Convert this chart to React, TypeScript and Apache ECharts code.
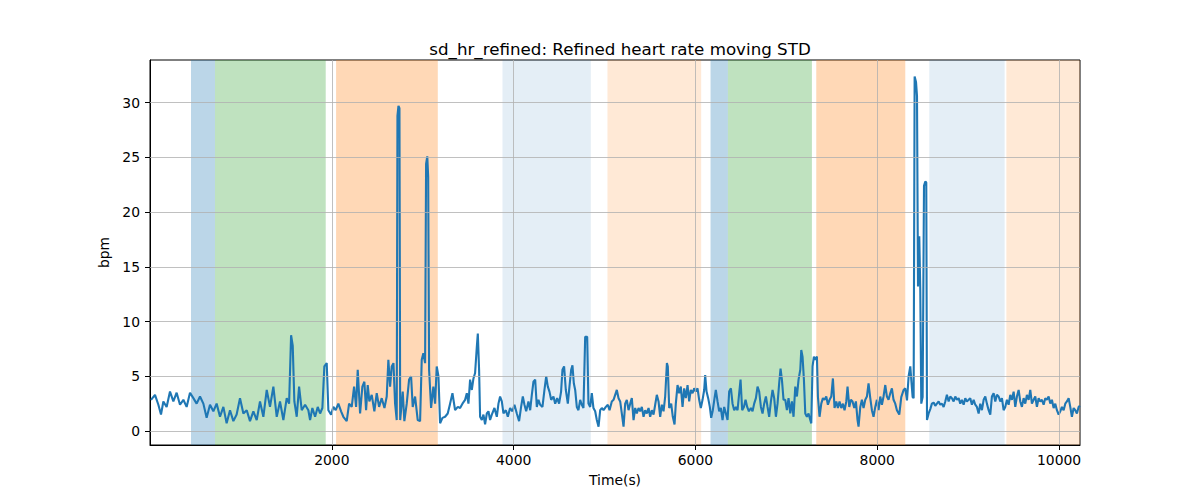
import React, { useEffect, useRef } from "react";
import * as echarts from "echarts";

// Time (s) of each sample
const times: number[] = [
  11, 55, 92, 121, 147, 183, 220, 257, 293, 330, 367, 403, 440, 477, 513, 550, 587, 623, 660, 697,
  733, 770, 807, 843, 880, 917, 953, 990, 1027, 1064, 1100, 1137, 1174, 1210, 1247, 1284, 1320, 1357, 1394, 1430,
  1467, 1504, 1530, 1552, 1570, 1588, 1614, 1640, 1669,
  1706, 1742, 1761, 1786, 1816, 1845, 1871, 1896, 1918, 1944, 1962, 1992, 2017, 2043, 2072, 2102, 2127, 2164, 2190, 2219,
  2245, 2267, 2285, 2311, 2336, 2358, 2377, 2395, 2413, 2439, 2468, 2494, 2520, 2549, 2579, 2604, 2622, 2641, 2659, 2678,
  2696, 2714, 2722, 2733, 2744, 2752, 2780, 2798, 2824, 2850, 2872, 2890, 2916, 2945, 2971, 2989, 3007, 3026, 3037, 3050,
  3060, 3070, 3092, 3117, 3136, 3154, 3173, 3191, 3217, 3246, 3275, 3301, 3327, 3356, 3386, 3411, 3437,
  3466, 3485, 3503, 3521, 3540, 3558, 3576, 3595, 3606, 3620, 3631, 3650, 3668, 3686, 3705, 3723, 3741, 3760, 3789, 3815,
  3833, 3851, 3870, 3888, 3914, 3936, 3961, 3987, 4009, 4035, 4060, 4082, 4101, 4119, 4138, 4163, 4182, 4200, 4218, 4237,
  4255, 4273, 4292, 4317, 4339, 4358, 4376, 4394, 4413, 4438, 4457, 4479, 4500, 4522, 4537, 4555, 4574, 4596, 4614, 4633,
  4647, 4662, 4677, 4695, 4713, 4732, 4750, 4768, 4787, 4809, 4823, 4842, 4860, 4878, 4897, 4915, 4934, 4952, 4970, 4989,
  5014, 5036, 5055, 5080, 5099, 5117, 5135, 5154, 5172, 5190, 5209, 5227,
  5245, 5264, 5282, 5300, 5319, 5337, 5355, 5374, 5392, 5410, 5429, 5447, 5465, 5484, 5502, 5520, 5539, 5557, 5575, 5594,
  5612, 5630, 5649, 5667, 5686, 5696, 5711, 5733, 5751, 5770, 5784, 5803, 5821, 5839, 5858, 5876, 5894, 5913, 5931, 5949,
  5968, 5986, 6004, 6023, 6041, 6059, 6078, 6096, 6107, 6122, 6140, 6158, 6173, 6191, 6210, 6224, 6243, 6261, 6279, 6298,
  6316, 6335, 6353, 6371, 6390, 6408, 6426, 6445, 6463, 6481, 6496, 6514, 6533, 6551, 6569, 6588, 6610, 6628, 6646, 6665,
  6683, 6701, 6720, 6738, 6756, 6775, 6793, 6811, 6830, 6848, 6866, 6885, 6903, 6921, 6936, 6951, 6969,
  6988, 7006, 7024, 7043, 7061, 7079, 7098, 7116, 7134, 7153, 7164, 7178, 7193, 7208, 7226, 7244, 7263, 7274, 7288, 7303,
  7318, 7336, 7347, 7365, 7384, 7402, 7420, 7439, 7457, 7475, 7494, 7512, 7530, 7549, 7567, 7585, 7604, 7622, 7640, 7659,
  7673, 7692, 7710, 7728, 7747, 7765, 7783, 7794, 7813, 7831, 7849, 7868, 7886, 7904, 7923, 7941, 7959, 7978, 7996, 8014,
  8033, 8051, 8069, 8088, 8106, 8124, 8143, 8161, 8179,
  8198, 8216, 8242, 8264, 8290, 8308, 8327, 8345, 8363, 8374, 8389, 8400, 8411, 8426, 8437, 8448, 8462, 8473, 8484, 8499,
  8514, 8528, 8539, 8547, 8565, 8583, 8601, 8620, 8638,
  8656, 8675, 8693, 8711, 8730, 8748,
  8766, 8785, 8803, 8821, 8840, 8858, 8876, 8895, 8913, 8931, 8950, 8968, 8986, 9005, 9023, 9041, 9060, 9078, 9096, 9115,
  9133, 9151, 9170, 9188, 9206, 9225, 9243, 9261, 9280, 9298, 9316, 9335, 9353, 9371, 9390, 9408, 9426, 9445, 9463, 9481,
  9500, 9518, 9536, 9555, 9573, 9591, 9610, 9628, 9646, 9665, 9683, 9701, 9720, 9738, 9756, 9775, 9793, 9811, 9830, 9848,
  9866, 9885, 9903, 9921, 9940, 9958, 9976, 9995, 10013, 10031, 10050, 10068, 10086, 10105, 10123, 10141, 10160, 10178, 10196, 10215,
  10230,
];

// Moving STD of heart rate (bpm)
const values: number[] = [
  2.85, 3.3, 2.4, 1.5, 2.7, 2.2, 3.6, 2.7, 3.5, 2.4, 2.85, 2.2, 3.5, 3.0, 2.5, 3.15, 2.5, 1.2, 2.4, 1.8,
  2.5, 1.3, 2.2, 0.7, 1.9, 0.9, 1.5, 3.0, 1.6, 1.9, 0.9, 1.8, 1.0, 2.7, 1.3, 3.75, 2.2, 4.06, 1.3, 2.7,
  1.0, 3.0, 2.5, 8.75, 7.8, 2.7, 1.3, 4.06, 1.9,
  2.4, 1.9, 1.0, 2.1, 1.3, 2.2, 1.6, 2.1, 5.9, 6.2, 1.9, 1.5, 2.2, 1.9, 2.5, 1.8, 1.3, 0.9, 2.5, 2.2,
  4.06, 2.2, 5.6, 1.6, 4.06, 4.5, 1.9, 4.2, 2.7, 3.3, 1.8, 3.45, 2.2, 3.0, 2.1, 3.15, 6.5, 4.06, 5.9, 6.2,
  2.5, 1.0, 28.8, 29.7, 29.5, 1.0, 3.6, 0.9, 2.5, 4.7, 5.0, 2.2, 3.15, 1.0, 0.9, 6.5, 7.1, 6.2, 24.4, 25.1,
  23.2, 5.6, 2.1, 4.06, 2.5, 5.9, 5.0, 0.7, 1.2, 1.3, 1.6, 2.5, 3.45, 1.9, 2.2, 2.1, 2.5,
  2.85, 3.45, 2.5, 4.7, 3.75, 4.8, 5.3, 7.7, 8.9, 5.6, 1.3, 1.0, 1.5, 0.6, 1.6, 1.8, 1.0, 1.5, 2.1, 1.3,
  2.5, 3.15, 2.7, 1.6, 1.9, 1.3, 2.1, 1.8, 2.4, 1.6, 0.9, 2.2, 3.15, 2.4, 1.8, 2.7, 1.9, 3.3, 4.5, 4.7,
  2.2, 2.85, 2.4, 2.2, 3.75, 5.0, 4.06, 3.6, 2.85, 3.15, 2.5, 3.0, 2.5, 3.6, 5.6, 5.9, 3.75, 2.5, 4.06, 5.6,
  6.0, 4.36, 3.75, 2.2, 1.9, 2.85, 2.4, 2.1, 8.6, 8.6, 2.5, 2.2, 3.45, 2.1, 1.8, 1.0, 0.4, 1.9, 2.1, 1.9,
  2.2, 2.4, 1.9, 2.7, 2.85, 3.3, 3.75, 3.0, 2.7, 1.6, 0.4, 2.5,
  2.85, 1.9, 2.5, 3.0, 1.0, 2.1, 1.6, 2.1, 1.8, 2.2, 1.3, 1.9, 1.6, 2.1, 1.3, 1.9, 1.5, 2.4, 3.3, 2.7,
  1.3, 2.4, 1.8, 3.15, 6.2, 5.9, 2.1, 2.5, 1.3, 0.6, 2.5, 4.2, 3.45, 4.06, 2.2, 3.9, 3.0, 4.2, 2.7, 3.75,
  3.45, 3.9, 3.6, 3.9, 2.85, 2.1, 2.85, 3.75, 5.1, 3.6, 3.0, 2.2, 1.2, 1.9, 3.0, 3.75, 2.7, 1.8, 2.1, 1.0,
  2.2, 1.6, 1.0, 3.6, 3.9, 2.5, 1.9, 2.2, 1.9, 3.45, 4.7, 1.9, 2.2, 2.85, 2.2, 1.8, 2.1, 1.8, 2.5, 3.0,
  4.06, 3.6, 2.2, 1.6, 2.5, 3.15, 2.2, 1.3, 2.7, 3.75, 3.0, 1.3, 2.5, 4.36, 5.7, 4.7, 2.85,
  2.85, 1.9, 3.0, 1.6, 2.7, 1.3, 4.06, 3.15, 4.7, 5.6, 7.4, 6.8, 4.7, 1.6, 1.3, 1.6, 1.0, 0.7, 5.9, 6.8,
  6.5, 6.8, 3.15, 1.3, 2.5, 3.0, 2.85, 3.15, 2.4, 2.85, 3.15, 4.8, 2.1, 2.7, 2.1, 2.7, 2.1, 2.5, 1.9, 2.7,
  4.06, 2.2, 2.85, 2.7, 2.1, 2.7, 1.0, 0.4, 2.2, 2.85, 2.1, 2.85, 3.15, 4.36, 3.0, 1.9, 1.3, 2.2, 2.85, 1.9,
  3.15, 2.4, 3.15, 4.2, 3.15, 2.85, 3.45, 3.9, 2.85,
  2.5, 1.9, 1.5, 3.1, 3.75, 3.9, 2.8, 5.0, 5.9, 4.7, 3.1, 3.0, 32.4, 31.9, 30.6, 13.2, 17.8, 12.9, 2.5, 3.1,
  22.4, 22.8, 22.7, 1.0, 1.6, 2.0, 2.5, 2.6, 2.3,
  2.5, 2.7, 2.4, 2.5, 2.2, 2.7,
  3.3, 2.7, 3.15, 3.0, 2.7, 3.15, 2.85, 3.0, 2.5, 2.85, 2.4, 3.0, 2.7, 2.85, 3.0, 2.4, 2.85, 2.4, 2.2, 1.6,
  2.5, 1.9, 2.85, 3.15, 2.5, 1.9, 1.5, 3.15, 3.45, 2.7, 3.3, 3.15, 2.7, 3.0, 1.9, 2.2, 2.85, 2.4, 3.3, 2.85,
  3.6, 2.2, 3.15, 3.75, 2.7, 2.2, 3.0, 2.5, 3.3, 2.85, 3.75, 2.5, 2.85, 3.15, 2.2, 3.0, 2.7, 2.85, 2.4, 3.0,
  2.85, 3.15, 2.5, 2.85, 2.1, 2.5, 1.9, 1.5, 1.8, 2.2, 1.9, 2.5, 2.7, 3.0, 2.2, 1.3, 2.1, 1.9, 1.6, 2.2,
  2.3,
];

// Shaded activity segments (start s, end s, kind)
const bandStarts: number[] = [451, 715, 2047, 3877, 5032, 6166, 6357, 7329, 8572, 9420];
const bandEnds: number[] = [715, 1933, 3166, 4849, 6063, 6357, 7281, 8308, 9401, 10230];
const bandKinds: string[] = ["blue", "green", "orange", "lightblue", "lightorange", "blue", "green", "orange", "lightblue", "lightorange"];

// Tick values (gridlines drawn at these)
const xTicks: number[] = [2000, 4000, 6000, 8000, 10000];
const yTicks: number[] = [0, 5, 10, 15, 20, 25, 30];

const bandColors: Record<string, string> = {
  blue: "rgba(31,119,180,0.3)",
  green: "rgba(44,160,44,0.3)",
  orange: "rgba(255,127,14,0.3)",
  lightblue: "rgba(31,119,180,0.12)",
  lightorange: "rgba(255,127,14,0.17)",
};

const X_MIN = 0;
const X_MAX = 10230;
const Y_MIN = -1.28;
const Y_MAX = 33.9;

const FONT = "DejaVu Sans";

export default function App() {
  const ref = useRef<HTMLDivElement>(null);

  useEffect(() => {
    if (!ref.current) return;
    const chart = echarts.init(ref.current, null, { renderer: "svg" });
    const data = times.map((t, i) => [t, values[i]]);
    const areas = bandStarts.map((s, i) => [
      { xAxis: s, itemStyle: { color: bandColors[bandKinds[i]] } },
      { xAxis: bandEnds[i] },
    ]);
    const gridLines = [
      ...xTicks.map((v) => ({ xAxis: v })),
      ...yTicks.map((v) => ({ yAxis: v })),
    ];

    chart.setOption({
      animation: false,
      backgroundColor: "#ffffff",
      title: {
        text: "sd_hr_refined: Refined heart rate moving STD",
        left: 615,
        top: 35,
        textAlign: "center",
        textStyle: { fontFamily: FONT, fontSize: 16.7, fontWeight: "normal", color: "#000" },
      },
      grid: {
        left: 150,
        right: 120,
        top: 60,
        bottom: 55,
        show: true,
        borderColor: "#000",
        borderWidth: 1,
        backgroundColor: "transparent",
      },
      xAxis: {
        type: "value",
        min: X_MIN,
        max: X_MAX,
        interval: 2000,
        name: "Time(s)",
        nameLocation: "middle",
        nameGap: 28,
        nameTextStyle: { fontFamily: FONT, fontSize: 13.9, color: "#000" },
        axisLine: { show: true, onZero: false, lineStyle: { color: "#000", width: 1 } },
        axisTick: { show: true, inside: false, length: 5, lineStyle: { color: "#000" } },
        axisLabel: {
          showMinLabel: false,
          showMaxLabel: false,
          margin: 8,
          fontFamily: FONT,
          fontSize: 13.9,
          color: "#000",
          formatter: (v: number) => String(v),
        },
        splitLine: { show: false },
      },
      yAxis: {
        type: "value",
        min: Y_MIN,
        max: Y_MAX,
        splitNumber: 7,
        name: "bpm",
        nameLocation: "middle",
        nameGap: 31,
        nameTextStyle: { fontFamily: FONT, fontSize: 13.9, color: "#000" },
        axisLine: { show: true, lineStyle: { color: "#000", width: 1 } },
        axisTick: { show: true, inside: false, length: 5, lineStyle: { color: "#000" } },
        axisLabel: {
          showMinLabel: false,
          showMaxLabel: false,
          margin: 10,
          fontFamily: FONT,
          fontSize: 13.9,
          color: "#000",
          formatter: (v: number) => String(v),
        },
        splitLine: { show: false },
      },
      series: [
        {
          type: "line",
          name: "bands",
          data: [],
          z: 1,
          silent: true,
          markArea: {
            silent: true,
            data: areas,
          },
        },
        {
          type: "line",
          name: "grid",
          data: [],
          z: 2,
          silent: true,
          markLine: {
            silent: true,
            symbol: "none",
            label: { show: false },
            lineStyle: { color: "#b0b0b0", width: 0.8, type: "solid" },
            data: gridLines,
          },
        },
        {
          type: "line",
          name: "sd_hr_refined",
          data,
          showSymbol: false,
          symbol: "none",
          lineStyle: { color: "#1f77b4", width: 2.1 },
          itemStyle: { color: "#1f77b4" },
          z: 3,
        },
      ],
    });

    return () => chart.dispose();
  }, []);

  return (
    <div
      ref={ref}
      style={{ position: "fixed", left: 0, top: 0, width: 1200, height: 500, background: "#fff" }}
    />
  );
}
